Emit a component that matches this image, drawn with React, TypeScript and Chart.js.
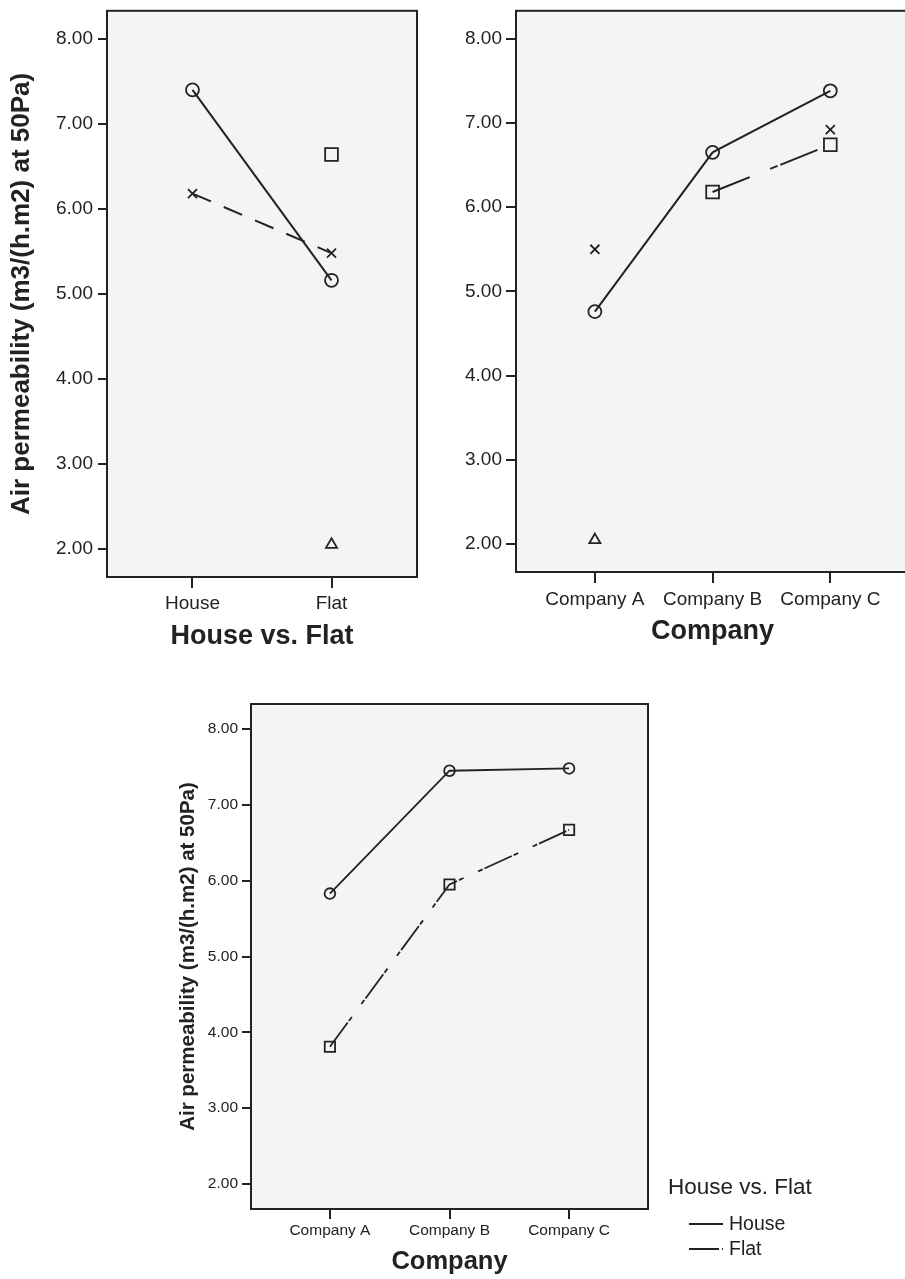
import React, { useEffect, useRef } from 'react';
import { Chart, registerables } from 'chart.js';

Chart.register(...registerables);

// ---------- data ----------
const yTickValues = [2, 3, 4, 5, 6, 7, 8];
const yMin = 1.67;
const yMax = 8.33;
const yTitleText = 'Air permeability (m3/(h.m2) at 50Pa)';

const dwellingCategories = ['House', 'Flat'];
const companyCategories = ['Company A', 'Company B', 'Company C'];

// Panel 1: x = House vs. Flat
const p1Circle = [7.4, 5.16];
const p1Cross = [6.18, 5.48];
const p1Square = [null, 6.64];
const p1Triangle = [null, 2.05];

// Panel 2: x = Company
const p2Circle = [4.76, 6.65, 7.38];
const p2Cross = [5.5, null, 6.92];
const p2Square = [null, 6.18, 6.74];
const p2Triangle = [2.05, null, null];

// Panel 3: x = Company, lines = House vs. Flat
const p3SeriesNames = ['House', 'Flat'];
const p3House = [5.83, 7.45, 7.48];
const p3Flat = [3.81, 5.95, 6.67];

// ---------- styling ----------
const FONT = "'Liberation Sans', Arial, Helvetica, sans-serif";
const INK = '#222222';
const PLOT_BG = '#f3f4f3';
const CLEAR = 'rgba(0,0,0,0)';

const toPoints = (vals: (number | null)[]) => vals.map((v, i) => ({ x: i, y: v }));

const plotFrame = {
  id: 'plotFrame',
  beforeDraw(chart: any) {
    const { ctx, chartArea: a } = chart;
    ctx.save();
    ctx.fillStyle = PLOT_BG;
    ctx.fillRect(a.left, a.top, a.right - a.left, a.bottom - a.top);
    ctx.restore();
  },
  afterDatasetsDraw(chart: any) {
    const { ctx, chartArea: a } = chart;
    ctx.save();
    ctx.strokeStyle = INK;
    ctx.lineWidth = 2;
    ctx.setLineDash([]);
    ctx.strokeRect(a.left, a.top, a.right - a.left, a.bottom - a.top);
    ctx.restore();
  },
};

const lineLegend = {
  id: 'lineLegend',
  afterDraw(chart: any, _args: any, opts: any) {
    if (!opts || !opts.show) return;
    const { ctx } = chart;
    ctx.save();
    ctx.fillStyle = INK;
    ctx.textBaseline = 'middle';
    ctx.textAlign = 'left';
    ctx.font = `${opts.titleSize}px ${FONT}`;
    ctx.fillText(opts.title, opts.titleX, opts.titleY);
    ctx.font = `${opts.itemSize}px ${FONT}`;
    chart.data.datasets.forEach((ds: any, i: number) => {
      const y = opts.itemY + i * opts.itemGap;
      ctx.strokeStyle = INK;
      ctx.lineWidth = 2;
      ctx.setLineDash(ds.legendDash || []);
      ctx.beginPath();
      ctx.moveTo(opts.lineX0, y);
      ctx.lineTo(opts.lineX1, y);
      ctx.stroke();
      ctx.setLineDash([]);
      ctx.fillText(ds.label, opts.textX, y + 1);
    });
    ctx.restore();
  },
};

const markerStyles: Record<string, any> = {
  circle: { pointStyle: 'circle', pointRadius: 6.5 },
  cross: { pointStyle: 'crossRot', pointRadius: 6.4 },
  square: { pointStyle: 'rect', pointRadius: 9 },
  triangle: { pointStyle: 'triangle', pointRadius: 6.4 },
};

function makeDataset(label: string, vals: (number | null)[], marker: string, dash: number[], scale = 1, lineWidth = 2) {
  const m = markerStyles[marker];
  return {
    label,
    data: toPoints(vals),
    borderColor: INK,
    backgroundColor: CLEAR,
    borderWidth: lineWidth,
    borderDash: dash,
    pointStyle: m.pointStyle,
    pointRadius: m.pointRadius * scale,
    pointBorderWidth: 1.8,
    pointBorderColor: INK,
    pointBackgroundColor: CLEAR,
    spanGaps: false,
    tension: 0,
    fill: false,
  };
}

function buildOptions(o: any) {
  return {
    responsive: false,
    animation: false,
    devicePixelRatio: 1,
    events: [],
    layout: { padding: { top: o.padTop, right: o.padRight, bottom: 0, left: 0 } },
    plugins: {
      legend: { display: false },
      tooltip: { enabled: false },
      lineLegend: o.legend || { show: false },
    },
    scales: {
      x: {
        type: 'linear',
        min: -o.xMargin,
        max: o.categories.length - 1 + o.xMargin,
        bounds: 'data',
        afterBuildTicks: (s: any) => {
          s.ticks = o.categories.map((_: string, i: number) => ({ value: i }));
        },
        afterFit: (s: any) => {
          s.height = o.xAxisHeight;
          s.paddingLeft = 0;
          s.paddingRight = 0;
        },
        grid: { drawOnChartArea: false, drawTicks: true, tickLength: o.xTickLen, color: INK, lineWidth: 2 },
        border: { display: false },
        ticks: {
          callback: (v: any) => o.categories[v] ?? '',
          font: { family: FONT, size: o.tickSize },
          color: INK,
          padding: o.xTickPad,
          maxRotation: 0,
          minRotation: 0,
          autoSkip: false,
        },
        title: {
          display: true,
          text: o.xTitle,
          font: { family: FONT, size: o.xTitleSize, weight: 'bold' },
          color: INK,
          padding: 0,
        },
      },
      y: {
        type: 'linear',
        min: yMin,
        max: yMax,
        bounds: 'data',
        afterBuildTicks: (s: any) => {
          s.ticks = yTickValues.map((v) => ({ value: v }));
        },
        afterFit: (s: any) => {
          s.width = o.yAxisWidth;
          s.paddingTop = 0;
          s.paddingBottom = 0;
        },
        grid: { drawOnChartArea: false, drawTicks: true, tickLength: o.yTickLen, color: INK, lineWidth: 2 },
        border: { display: false },
        ticks: {
          callback: (v: any) => Number(v).toFixed(2),
          font: { family: FONT, size: o.tickSize },
          color: INK,
          padding: o.yTickPad,
        },
        title: o.yTitle
          ? {
              display: true,
              text: o.yTitle,
              font: { family: FONT, size: o.yTitleSize, weight: 'bold' },
              color: INK,
              padding: { top: o.yTitlePad, bottom: 0 },
            }
          : { display: false },
      },
    },
  };
}

function Panel({ config, left, top, width, height }: any) {
  const ref = useRef<HTMLCanvasElement | null>(null);
  useEffect(() => {
    if (!ref.current) return;
    const chart = new Chart(ref.current, config);
    return () => chart.destroy();
  }, [config]);
  return (
    <canvas
      ref={ref}
      width={width}
      height={height}
      style={{ position: 'absolute', left, top, width, height, display: 'block' }}
    />
  );
}

const config1: any = {
  type: 'line',
  data: {
    datasets: [
      makeDataset('Group 1', p1Circle, 'circle', []),
      makeDataset('Group 2', p1Cross, 'cross', [20, 14]),
      makeDataset('Group 3', p1Square, 'square', []),
      makeDataset('Group 4', p1Triangle, 'triangle', []),
    ],
  },
  options: buildOptions({
    categories: dwellingCategories,
    xMargin: 0.615,
    padTop: 10,
    padRight: 23,
    yAxisWidth: 107,
    xAxisHeight: 76,
    tickSize: 19,
    xTickLen: 11,
    xTickPad: 4,
    yTickLen: 9,
    yTickPad: 5,
    xTitle: 'House vs. Flat',
    xTitleSize: 27,
    yTitle: yTitleText,
    yTitleSize: 26,
    yTitlePad: 6,
  }),
  plugins: [plotFrame, lineLegend],
};

const config2: any = {
  type: 'line',
  data: {
    datasets: [
      makeDataset('Group 1', p2Circle, 'circle', []),
      makeDataset('Group 2', p2Cross, 'cross', []),
      makeDataset('Group 3', p2Square, 'square', [40, 22, 8, 3]),
      makeDataset('Group 4', p2Triangle, 'triangle', []),
    ],
  },
  options: buildOptions({
    categories: companyCategories,
    xMargin: 0.67,
    padTop: 6,
    padRight: 5,
    yAxisWidth: 86,
    xAxisHeight: 76,
    tickSize: 19,
    xTickLen: 11,
    xTickPad: 5,
    yTickLen: 10,
    yTickPad: 4,
    xTitle: 'Company',
    xTitleSize: 27,
    yTitle: null,
  }),
  plugins: [plotFrame, lineLegend],
};

const flat3 = makeDataset(p3SeriesNames[1], p3Flat, 'square', [30, 2, 5, 16, 5, 2], 0.81, 1.8);
(flat3 as any).legendDash = [30, 3, 2, 20];
const config3: any = {
  type: 'line',
  data: {
    datasets: [makeDataset(p3SeriesNames[0], p3House, 'circle', [], 0.82, 1.8), flat3],
  },
  options: buildOptions({
    categories: companyCategories,
    xMargin: 0.66,
    padTop: 14,
    padRight: 257,
    yAxisWidth: 81,
    xAxisHeight: 68,
    tickSize: 15.5,
    xTickLen: 10,
    xTickPad: 2,
    yTickLen: 9,
    yTickPad: 4,
    xTitle: 'Company',
    xTitleSize: 25.5,
    yTitle: yTitleText,
    yTitleSize: 20.5,
    yTitlePad: 6,
    legend: {
      show: true,
      title: 'House vs. Flat',
      titleSize: 22.5,
      titleX: 498,
      titleY: 498,
      itemSize: 19.5,
      itemY: 534,
      itemGap: 25,
      lineX0: 519,
      lineX1: 553,
      textX: 559,
    },
  }),
  plugins: [plotFrame, lineLegend],
};

export default function App() {
  return (
    <div style={{ position: 'relative', width: 905, height: 1279, overflow: 'hidden', background: '#ffffff' }}>
      <style>{'body{margin:0;}'}</style>
      <Panel config={config1} left={0} top={0} width={440} height={653} />
      <Panel config={config2} left={430} top={0} width={490} height={648} />
      <Panel config={config3} left={170} top={690} width={735} height={587} />
    </div>
  );
}
